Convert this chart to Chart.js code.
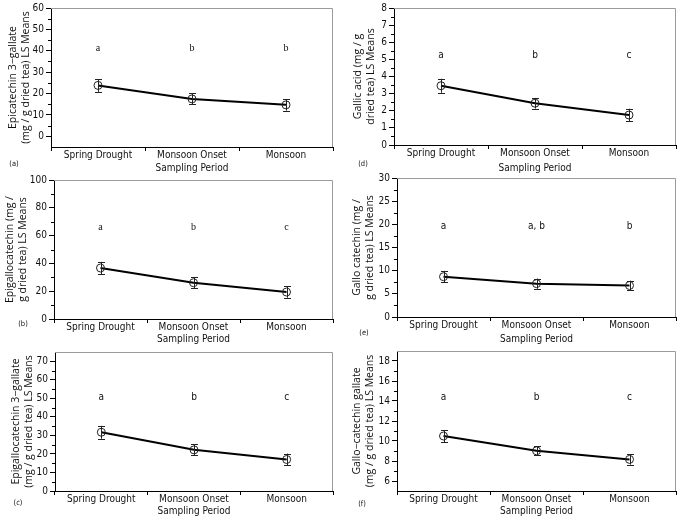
<!DOCTYPE html>
<html>
<head>
<meta charset="utf-8">
<script src="https://cdn.jsdelivr.net/npm/chart.js@4.4.1/dist/chart.umd.min.js"></script>
<style>
	html, body { margin: 0; padding: 0; background: #fff; }
	#fig { position: relative; width: 683px; height: 520px; overflow: hidden; }
	#fig canvas { position: absolute; }
</style>
</head>
<body>
<div id="fig">
	<canvas id="panel-a" width="340" height="175" style="left:0;top:0"></canvas>
	<canvas id="panel-d" width="343" height="175" style="left:340px;top:0"></canvas>
	<canvas id="panel-b" width="340" height="176" style="left:0;top:170px"></canvas>
	<canvas id="panel-e" width="343" height="176" style="left:340px;top:170px"></canvas>
	<canvas id="panel-c" width="340" height="178" style="left:0;top:340px"></canvas>
	<canvas id="panel-f" width="343" height="178" style="left:340px;top:340px"></canvas>
</div>
<script>
const periods = ['Spring Drought', 'Monsoon Onset', 'Monsoon'];

// (a) epicatechin 3-gallate
const ecgMeans = [23.8, 17.5, 14.7];
const ecgErrors = [3.0, 2.6, 2.7];
const ecgLetters = ['a', 'b', 'b'];
const ecgTicks = [0, 10, 20, 30, 40, 50, 60];

// (b) epigallocatechin
const egcMeans = [36.7, 26.1, 19.4];
const egcErrors = [4.4, 3.8, 4.1];
const egcLetters = ['a', 'b', 'c'];
const egcTicks = [0, 20, 40, 60, 80, 100];

// (c) epigallocatechin 3-gallate
const egcgMeans = [31.7, 22.2, 17.0];
const egcgErrors = [3.5, 2.9, 3.2];
const egcgLetters = ['a', 'b', 'c'];
const egcgTicks = [0, 10, 20, 30, 40, 50, 60, 70];

// (d) gallic acid
const gaMeans = [3.46, 2.44, 1.75];
const gaErrors = [0.41, 0.31, 0.37];
const gaLetters = ['a', 'b', 'c'];
const gaTicks = [0, 1, 2, 3, 4, 5, 6, 7, 8];

// (e) gallo catechin
const gcMeans = [8.7, 7.2, 6.8];
const gcErrors = [1.25, 1.1, 1.05];
const gcLetters = ['a', 'a, b', 'b'];
const gcTicks = [0, 5, 10, 15, 20, 25, 30];

// (f) gallo-catechin gallate
const gcgMeans = [10.5, 9.02, 8.16];
const gcgErrors = [0.6, 0.45, 0.52];
const gcgLetters = ['a', 'b', 'c'];
const gcgTicks = [6, 8, 10, 12, 14, 16, 18];

const narrow = "'DejaVu Sans Condensed', 'Roboto', sans-serif";
Chart.defaults.font.family = narrow;
Chart.defaults.color = '#111';

const extrasPlugin = {
	id: 'extras',
	afterDraw(chart, args, opts) {
		const ctx = chart.ctx;
		const area = chart.chartArea;
		const y = chart.scales.y;
		const pts = chart.getDatasetMeta(0).data;
		const means = chart.data.datasets[0].data;

		ctx.save();

		// top and right frame
		ctx.strokeStyle = '#9a9a9a';
		ctx.lineWidth = 1;
		ctx.beginPath();
		ctx.moveTo(area.left, area.top + 0.5);
		ctx.lineTo(area.right - 0.5, area.top + 0.5);
		ctx.lineTo(area.right - 0.5, area.bottom);
		ctx.stroke();

		// minor ticks between the labelled ones
		ctx.strokeStyle = '#000';
		ctx.beginPath();
		for (let i = 0; i < opts.ticks.length - 1; i++) {
			const py = Math.round(y.getPixelForValue((opts.ticks[i] + opts.ticks[i + 1]) / 2)) + 0.5;
			ctx.moveTo(area.left - 3, py);
			ctx.lineTo(area.left, py);
		}
		ctx.stroke();

		// error bars
		ctx.strokeStyle = '#222';
		ctx.beginPath();
		pts.forEach((p, i) => {
			const x = Math.round(p.x) + 0.5;
			const top = y.getPixelForValue(means[i] + opts.errors[i]);
			const bot = y.getPixelForValue(means[i] - opts.errors[i]);
			ctx.moveTo(x, top);
			ctx.lineTo(x, bot);
			ctx.moveTo(x - 3.5, Math.round(top) + 0.5);
			ctx.lineTo(x + 3.5, Math.round(top) + 0.5);
			ctx.moveTo(x - 3.5, Math.round(bot) + 0.5);
			ctx.lineTo(x + 3.5, Math.round(bot) + 0.5);
		});
		ctx.stroke();

		// significance letters
		ctx.fillStyle = '#111';
		ctx.font = opts.letterFont;
		ctx.textAlign = 'center';
		ctx.textBaseline = 'middle';
		pts.forEach((p, i) => {
			ctx.fillText(opts.letters[i], p.x, y.getPixelForValue(opts.letterY));
		});

		// panel tag
		ctx.font = '7.5px ' + narrow;
		ctx.fillText(opts.tag, opts.tagX, opts.tagY);

		ctx.restore();
	},
};

function panelChart(id, cfg) {
	const ctx = document.getElementById(id);

	if (!ctx) {
		return;
	}

	const w = ctx.width;
	const h = ctx.height;

	new Chart(ctx, {
		type: 'line',
		data: {
			labels: periods,
			datasets: [
				{
					data: cfg.means,
					borderColor: '#000',
					borderWidth: 2,
					tension: 0,
					pointRadius: 4,
					pointBorderWidth: 1,
					pointBorderColor: '#222',
					pointBackgroundColor: 'rgba(0,0,0,0)',
				},
			],
		},
		options: {
			responsive: false,
			animation: false,
			events: [],
			layout: {
				padding: { left: 0, top: cfg.area[1], right: w - cfg.area[2], bottom: 0 },
			},
			plugins: {
				legend: { display: false },
				tooltip: { enabled: false },
				extras: {
					errors: cfg.errors,
					letters: cfg.letters,
					letterY: cfg.letterY,
					letterFont: cfg.letterFont,
					ticks: cfg.ticks,
					tag: cfg.tag,
					tagX: cfg.tagPos[0],
					tagY: cfg.tagPos[1],
				},
			},
			scales: {
				x: {
					type: 'category',
					offset: true,
					afterFit: (s) => { s.height = h - cfg.area[3]; },
					grid: {
						offset: true,
						drawOnChartArea: false,
						tickLength: 4,
						color: '#000',
					},
					border: { color: '#000' },
					ticks: {
						padding: -1,
						maxRotation: 0,
						autoSkip: false,
						color: '#111',
						font: { size: 10, lineHeight: 1.1 },
					},
					title: {
						display: true,
						text: 'Sampling Period',
						color: '#111',
						font: { size: 10, lineHeight: 1.2 },
						padding: { top: 0, bottom: 1 },
					},
				},
				y: {
					min: cfg.range[0],
					max: cfg.range[1],
					afterFit: (s) => { s.width = cfg.area[0]; },
					afterBuildTicks: (s) => { s.ticks = cfg.ticks.map((v) => ({ value: v })); },
					grid: {
						drawOnChartArea: false,
						tickLength: 5,
						color: '#000',
					},
					border: { color: '#000' },
					ticks: {
						padding: 2,
						color: '#111',
						font: { size: 10 },
					},
					title: {
						display: true,
						text: cfg.title,
						color: '#111',
						font: { family: "'Open Sans', sans-serif", size: 10.5, lineHeight: 1.25 },
						padding: { top: cfg.titlePad, bottom: 0 },
					},
				},
			},
		},
		plugins: [extrasPlugin],
	});
}

const serifLetters = "10px 'Liberation Serif', serif";
const sansLetters = '10px ' + narrow;

panelChart('panel-a', {
	means: ecgMeans, errors: ecgErrors, letters: ecgLetters, ticks: ecgTicks,
	range: [-5, 60], letterY: 41, letterFont: serifLetters,
	title: ['Epicatechin 3\u2212gallate', '(mg / g dried tea) LS Means'], titlePad: 6,
	area: [51, 7, 333, 147], tag: '(a)', tagPos: [14, 164],
});
panelChart('panel-d', {
	means: gaMeans, errors: gaErrors, letters: gaLetters, ticks: gaTicks,
	range: [0, 8], letterY: 5.22, letterFont: sansLetters,
	title: ['Gallic acid (mg / g', 'dried tea) LS Means'], titlePad: 11.5,
	area: [54, 6, 336, 145], tag: '(d)', tagPos: [23, 164],
});
panelChart('panel-b', {
	means: egcMeans, errors: egcErrors, letters: egcLetters, ticks: egcTicks,
	range: [0, 100], letterY: 66, letterFont: serifLetters,
	title: ['Epigallocatechin (mg /', 'g dried tea) LS Means'], titlePad: 3,
	area: [54, 10, 333, 149], tag: '(b)', tagPos: [23, 154],
});
panelChart('panel-e', {
	means: gcMeans, errors: gcErrors, letters: gcLetters, ticks: gcTicks,
	range: [0, 30], letterY: 19.5, letterFont: sansLetters,
	title: ['Gallo catechin (mg /', 'g dried tea) LS Means'], titlePad: 10.5,
	area: [57, 7, 336, 147], tag: '(e)', tagPos: [24, 163],
});
panelChart('panel-c', {
	means: egcgMeans, errors: egcgErrors, letters: egcgLetters, ticks: egcgTicks,
	range: [0, 75], letterY: 50.3, letterFont: sansLetters,
	title: ['Epigallocatechin 3\u2212gallate', '(mg / g dried tea) LS Means'], titlePad: 9.5,
	area: [55, 12, 333, 151], tag: '(c)', tagPos: [18, 163],
});
panelChart('panel-f', {
	means: gcgMeans, errors: gcgErrors, letters: gcgLetters, ticks: gcgTicks,
	range: [5, 19], letterY: 14.4, letterFont: sansLetters,
	title: ['Gallo\u2212catechin gallate', '(mg / g dried tea) LS Means'], titlePad: 10.5,
	area: [57, 11, 336, 151], tag: '(f)', tagPos: [22, 164],
});
</script>
</body>
</html>
